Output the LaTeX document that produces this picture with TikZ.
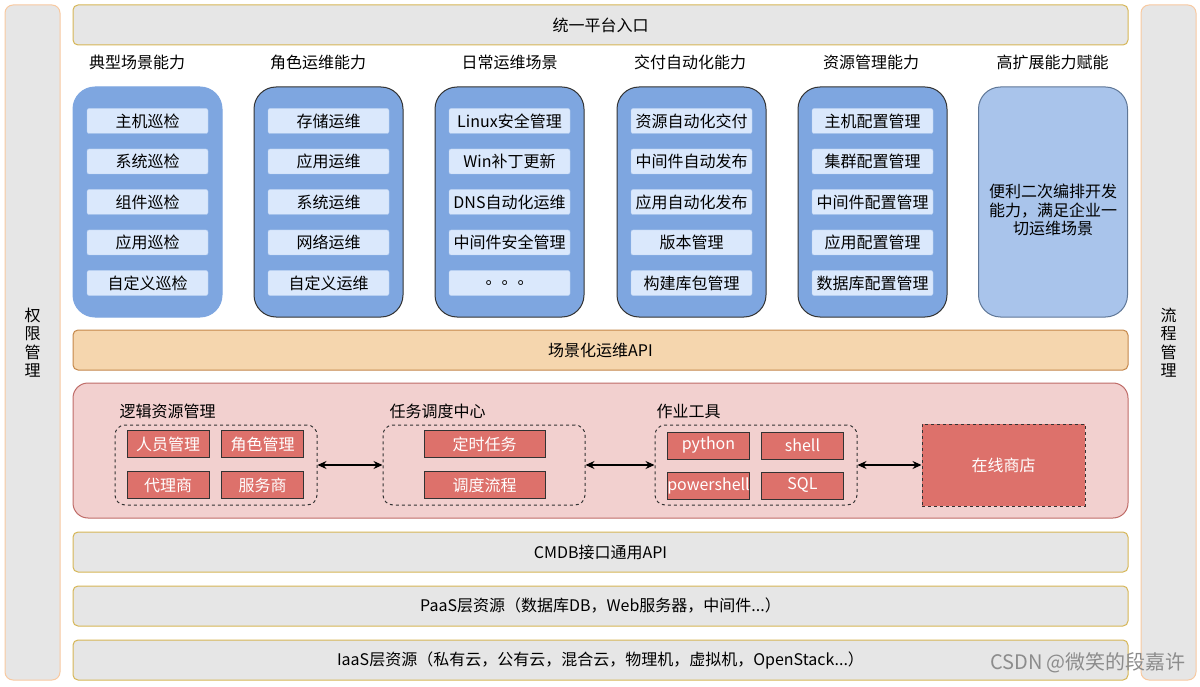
\documentclass[tikz,border=0pt]{standalone}
\usepackage{fontspec}
\setmainfont{Noto Sans CJK SC}
\usetikzlibrary{arrows.meta,positioning}

\definecolor{barfill}{HTML}{E6E6E6}
\definecolor{barline}{HTML}{D6B656}
\definecolor{sideline}{HTML}{F8C9A0}
\definecolor{apifill}{HTML}{F5D6AE}
\definecolor{apiline}{HTML}{C4874A}
\definecolor{regfill}{HTML}{F2D0CF}
\definecolor{regline}{HTML}{BF6C68}
\definecolor{colblue}{HTML}{7EA6E0}
\definecolor{itemblue}{HTML}{DAE8FC}
\definecolor{extblue}{HTML}{A9C4EB}
\definecolor{extline}{HTML}{5F7797}
\definecolor{redbox}{HTML}{DD716B}

\begin{document}
\begin{tikzpicture}[x=1pt,y=-1pt,>={Stealth[length=9pt,width=8pt,inset=3pt]},font=\fontsize{16}{18.5}\selectfont,
	side/.style={draw=sideline,fill=barfill,rounded corners=8pt,minimum width=55pt,minimum height=675pt,line width=1pt,align=center},
	bar/.style={draw=barline,fill=barfill,rounded corners=5pt,minimum width=1055pt,minimum height=40pt,line width=1pt},
	col/.style={draw=black!80,fill=colblue,rounded corners=22pt,minimum width=149pt,minimum height=230pt,line width=1pt},
	item/.style={draw=itemblue!60!colblue,fill=itemblue,rounded corners=2pt,minimum width=121pt,minimum height=25pt,inner sep=0pt},
	ritem/.style={draw=black!80,fill=redbox,text=white,minimum width=82pt,minimum height=27pt,inner sep=0pt,line width=1pt},
	grp/.style={draw=black!80,dashed,rounded corners=10pt,minimum width=202pt,minimum height=80pt,line width=1pt}]
	\useasboundingbox (0,0) rectangle (1200,687);

	% side bars
	\node[side] (auth) at (32.5,342.5) {权\\限\\管\\理};
	\node[side] (flow) at (1168.5,342.5) {流\\程\\管\\理};

	% top entry
	\node[bar] (entry) at (600.5,25) {统一平台入口};

	% capability columns
	\foreach \cx/\tx/\t [count=\i] in {147.5/137/典型场景能力,328.5/318/角色运维能力,509.5/509.5/日常运维场景,691.5/690/交付自动化能力,872.5/871/资源管理能力,1053/1052.5/高扩展能力赋能}
		\node (t_\i) at (\tx,62) {\t};
	\node[col,draw=colblue] (c_1) at (147.5,202) {};
	\node[col] (c_2) at (328.5,202) {};
	\node[col] (c_3) at (509.5,202) {};
	\node[col] (c_4) at (691.5,202) {};
	\node[col] (c_5) at (872.5,202) {};
	\node[col,draw=extline,fill=extblue] (c_6) at (1053,202) {};
	\node[align=center] (c_6_txt) at (1053,210) {便利二次编排开发\\能力，满足企业一\\切运维场景};

	\foreach \t [count=\j] in {主机巡检,系统巡检,组件巡检,应用巡检,自定义巡检}
		\node[item] (i_1_\j) at (147.5,80.5+40.5*\j) {\t};
	\foreach \t [count=\j] in {存储运维,应用运维,系统运维,网络运维,自定义运维}
		\node[item] (i_2_\j) at (328.5,80.5+40.5*\j) {\t};
	\foreach \t [count=\j] in {Linux安全管理,Win补丁更新,DNS自动化运维,中间件安全管理,。。。}
		\node[item] (i_3_\j) at (509.5,80.5+40.5*\j) {\t};
	\foreach \t [count=\j] in {资源自动化交付,中间件自动发布,应用自动化发布,版本管理,构建库包管理}
		\node[item] (i_4_\j) at (691.5,80.5+40.5*\j) {\t};
	\foreach \t [count=\j] in {主机配置管理,集群配置管理,中间件配置管理,应用配置管理,数据库配置管理}
		\node[item] (i_5_\j) at (872.5,80.5+40.5*\j) {\t};

	% scenario api
	\node[bar,draw=apiline,fill=apifill] (api) at (600.5,350) {场景化运维API};

	% core region
	\node[draw=regline,fill=regfill,rounded corners=15pt,minimum width=1055pt,minimum height=135pt,line width=1pt] (core) at (600.5,450.5) {};

	\node[grp] (g_1) at (216,465) {};
	\node[anchor=west] (gt_1) at (116,411) {逻辑资源管理};
	\node[ritem] (r_1) at (168,444) {人员管理};
	\node[ritem] (r_2) at (262.5,444) {角色管理};
	\node[ritem] (r_3) at (168,485) {代理商};
	\node[ritem] (r_4) at (262.5,485) {服务商};

	\node[grp] (g_2) at (484,465) {};
	\node[anchor=west] (gt_2) at (386,411) {任务调度中心};
	\node[ritem,minimum width=121pt] (r_5) at (484.5,444) {定时任务};
	\node[ritem,minimum width=121pt] (r_6) at (484.5,485) {调度流程};

	\node[grp] (g_3) at (756,465) {};
	\node[anchor=west] (gt_3) at (653,411) {作业工具};
	\node[ritem] (r_7) at (708.5,445.5) {python};
	\node[ritem] (r_8) at (802.5,445.5) {shell};
	\node[ritem] (r_9) at (708.5,485.5) {powershell};
	\node[ritem] (r_10) at (802.5,485.5) {SQL};

	\node[draw=black!80,dashed,fill=redbox,text=white,minimum width=163pt,minimum height=82pt,line width=1pt] (shop) at (1003.5,465) {在线商店};

	\path[<->,line width=1.2pt]
		(g_1.east) edge (g_2.west)
		(g_2.east) edge (g_3.west)
		(g_3.east) edge (shop.west);

	% resource layers
	\node[bar] (cmdb) at (600.5,552) {CMDB接口通用API};
	\node[bar] (paas) at (600.5,606) {PaaS层资源（数据库DB，Web服务器，中间件...）};
	\node[bar] (iaas) at (600.5,660) {IaaS层资源（私有云，公有云，混合云，物理机，虚拟机，OpenStack...）};

	\node[text=black!45,font=\fontsize{20}{24}\selectfont] (mark) at (1088,663) {CSDN @微笑的段嘉许};
\end{tikzpicture}
\end{document}
